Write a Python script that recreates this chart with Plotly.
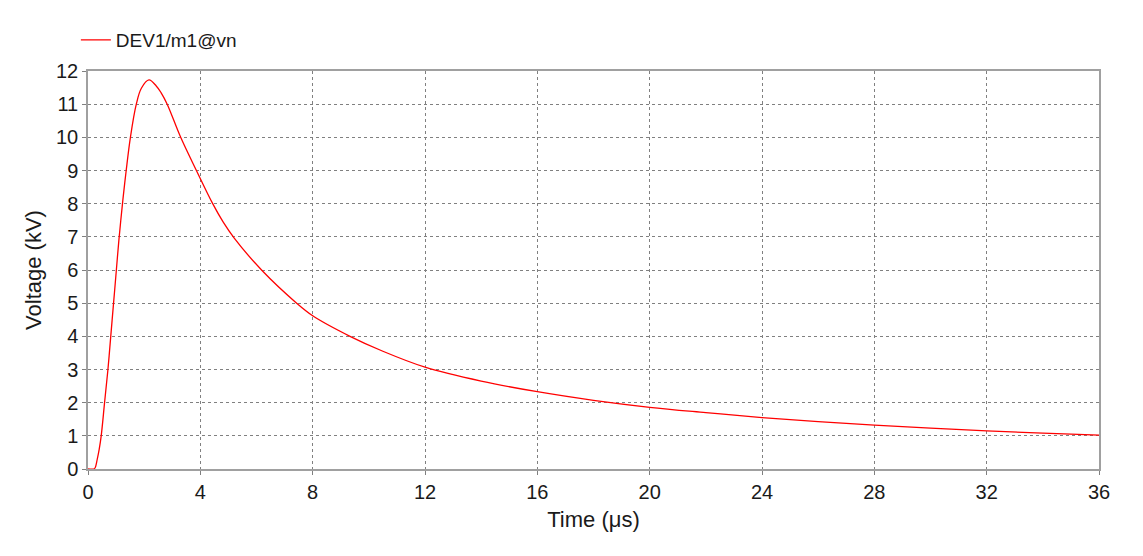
import plotly.graph_objects as go

# waveform (time in us, voltage in kV)
time_us = [0, 0.2, 0.25, 0.33, 0.4, 0.47, 0.59, 0.71, 0.81, 0.91, 1.01, 1.1, 1.24, 1.36,
           1.51, 1.72, 1.9, 2.17, 2.43, 2.6, 2.82, 3.3, 3.86, 4.44, 4.81, 5.2, 6.18,
           7.43, 8.0, 9.33, 10.5, 12, 14, 16, 18, 20, 22, 24, 26, 28, 30, 32, 34, 36]
voltage_kv = [0, 0, 0.03, 0.3, 0.6, 1.0, 2.0, 3.0, 4.0, 5.0, 6.0, 6.9, 8.1, 9.0,
              10.0, 11.0, 11.48, 11.73, 11.55, 11.35, 11.0, 10.0, 9.0, 8.0, 7.45, 6.97, 6.0,
              5.0, 4.62, 4.0, 3.55, 3.07, 2.65, 2.33, 2.07, 1.86, 1.7, 1.55, 1.43, 1.32, 1.23,
              1.15, 1.08, 1.02]

x_ticks = list(range(0, 37, 4))
y_ticks = list(range(0, 13))

fig = go.Figure()
fig.add_trace(go.Scatter(x=time_us, y=voltage_kv, mode="lines", name="DEV1/m1@vn",
                         line=dict(color="#ff0000", width=1.3, shape="spline", smoothing=1.0)))

axis_style = dict(showline=True, linecolor="#a0a0a0", linewidth=1.5, mirror=True,
                  showgrid=True, gridcolor="#808080", griddash="dot", gridwidth=1,
                  zeroline=False, ticks="outside", ticklen=4, tickcolor="#808080",
                  tickfont=dict(size=20, color="#1a1a1a"))

fig.update_xaxes(range=[0, 36], tickvals=x_ticks,
                 title=dict(text="Time (μs)", font=dict(size=22, color="#1a1a1a"), standoff=10),
                 **axis_style)
fig.update_yaxes(range=[0, 12], tickvals=y_ticks,
                 title=dict(text="Voltage (kV)", font=dict(size=22, color="#1a1a1a"), standoff=8),
                 **axis_style)

fig.update_layout(
    width=1135, height=548,
    margin=dict(l=80, r=44, t=63, b=87),
    paper_bgcolor="white", plot_bgcolor="white",
    font=dict(family="Liberation Sans, Arial, sans-serif"),
    showlegend=True,
    legend=dict(x=-0.012, y=1.03, xanchor="left", yanchor="bottom", itemwidth=30,
                font=dict(size=19, color="#1a1a1a"), bgcolor="rgba(0,0,0,0)"),
)

fig.write_html("out.html")
